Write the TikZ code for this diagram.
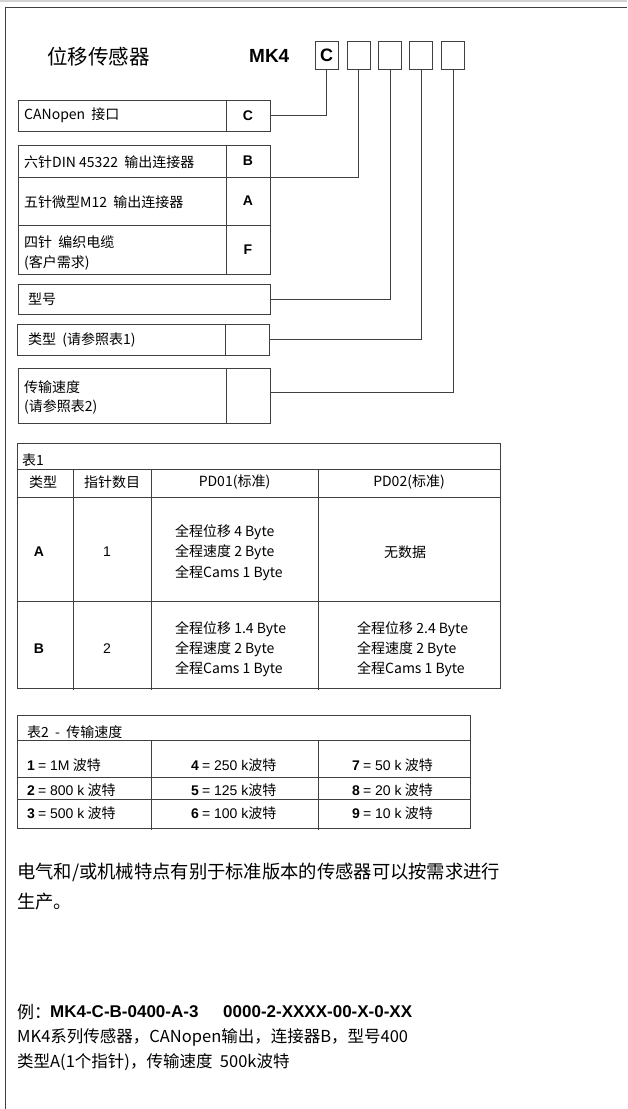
\documentclass[tikz,border=0pt]{standalone}
\usepackage{fontspec}
\setmainfont{Noto Sans CJK SC}
\newfontfamily\lib{Liberation Sans}
\begin{document}
\begin{tikzpicture}[x=1pt,y=-1pt,
  ln/.style={draw=black!75, line width=0.8pt},
  codebox/.style={ln, minimum width=23pt, minimum height=28pt, inner sep=0pt, font=\lib\bfseries\fontsize{18}{18}\selectfont},
  cell/.style={ln, inner sep=0pt, font=\lib\bfseries\fontsize{14}{14}\selectfont},
  lbl/.style={anchor=west, inner sep=0pt, font=\fontsize{14}{16}\selectfont},
  tb/.style={inner sep=0pt, font=\fontsize{14}{16}\selectfont},
  tbl/.style={inner sep=0pt, anchor=west, font=\fontsize{14}{16}\selectfont},
  bigtxt/.style={inner sep=0pt, anchor=west, font=\fontsize{18.3}{20}\selectfont},
  smtxt/.style={inner sep=0pt, anchor=west, font=\fontsize{16.5}{18}\selectfont}
]
\useasboundingbox (0,0) rectangle (627,1109);
% frame
\draw[gray!35, line width=1.5pt] (0,1) -- (627,1);
\draw[ln, line width=1pt] (5,1109) -- (5,7) -- (627,7);

% title
\node[inner sep=0pt, anchor=west, font=\fontsize{20.5}{22}\selectfont] (title) at (47,57) {位移传感器};
\node[inner sep=0pt, anchor=west, font=\lib\bfseries\fontsize{19}{20}\selectfont] (mk) at (249,56) {MK4};
\node[codebox] (k1) at (326.5,55) {C};
\node[codebox] (k2) at (358.5,55) {};
\node[codebox] (k3) at (390,55) {};
\node[codebox] (k4) at (421,55) {};
\node[codebox] (k5) at (453,55) {};

% CANopen row
\node[cell, minimum width=208pt, minimum height=31pt] (canL) at (122,115.5) {};
\node[cell, minimum width=44pt, minimum height=31pt] (canC) at (248,115.5) {C};
\node[lbl] (canT) at (24,115.5) {CANopen\ \ 接口};

% B A F rows
\node[cell, minimum width=208pt, minimum height=32pt] (bL) at (122,161) {};
\node[cell, minimum width=44pt, minimum height=32pt] (bC) at (248,161) {B};
\node[lbl] (bT) at (24,162) {六针DIN 45322\ \ 输出连接器};
\node[cell, minimum width=208pt, minimum height=48pt] (aL) at (122,201) {};
\node[cell, minimum width=44pt, minimum height=48pt] (aC) at (248,201) {A};
\node[lbl] (aT) at (24,202) {五针微型M12\ \ 输出连接器};
\node[cell, minimum width=208pt, minimum height=49pt] (fL) at (122,249.5) {};
\node[cell, minimum width=44pt, minimum height=49pt] (fC) at (248,249.5) {F};
\node[lbl] (fT1) at (24,242) {四针\ \ 编织电缆};
\node[lbl] (fT2) at (24,263) {(客户需求)};

% 型号
\node[cell, minimum width=252pt, minimum height=30pt] (xh) at (144,299) {};
\node[lbl] (xhT) at (28,299) {型号};

% 类型
\node[cell, minimum width=208pt, minimum height=31pt] (lxL) at (121,339.5) {};
\node[cell, minimum width=44pt, minimum height=31pt] (lxR) at (247,339.5) {};
\node[lbl] (lxT) at (28,340) {类型\ \ (请参照表1)};

% 传输速度
\node[cell, minimum width=208pt, minimum height=55pt] (sdL) at (122,395.5) {};
\node[cell, minimum width=44pt, minimum height=55pt] (sdR) at (248,395.5) {};
\node[lbl] (sdT1) at (24,387) {传输速度};
\node[lbl] (sdT2) at (24,407) {(请参照表2)};

% connectors
\coordinate (bj) at (270,177);
\coordinate (sj) at (270,392);
\draw[ln] (k1.south) |- (canC.east);
\draw[ln] (k2.south) |- (bj);
\draw[ln] (k3.south) |- (xh.east);
\draw[ln] (k4.south) |- (lxR.east);
\draw[ln] (k5.south) |- (sj);

% Table 1
\draw[ln] (17,443) rectangle (500,688);
\draw[ln] (17,469) -- (500,469);
\draw[ln] (17,497) -- (500,497);
\draw[ln] (17,601) -- (500,601);
\draw[ln] (73,469) -- (73,690);
\draw[ln] (151,469) -- (151,690);
\draw[ln] (318,469) -- (318,690);
\node[tbl] (t1) at (22,460) {表1};
\node[tb] (h1) at (43,482) {类型};
\node[tb] (h2) at (112,482) {指针数目};
\node[tb] (h3) at (234.5,482) {PD01(标准)};
\node[tb] (h4) at (409,482) {PD02(标准)};
\node[tb, font=\lib\bfseries\fontsize{14}{14}\selectfont] (ra) at (39,552) {A};
\node[tb, font=\lib\fontsize{14}{14}\selectfont] (ra1) at (107,552) {1};
\node[tbl] (ra2) at (175,532) {全程位移 4 Byte};
\node[tbl] (ra3) at (175,552) {全程速度 2 Byte};
\node[tbl] (ra4) at (175,573) {全程Cams 1 Byte};
\node[tb] (ra5) at (405,552) {无数据};
\node[tb, font=\lib\bfseries\fontsize{14}{14}\selectfont] (rb) at (39,649) {B};
\node[tb, font=\lib\fontsize{14}{14}\selectfont] (rb1) at (107,649) {2};
\node[tbl] (rb2) at (175,629) {全程位移 1.4 Byte};
\node[tbl] (rb3) at (175,649) {全程速度 2 Byte};
\node[tbl] (rb4) at (175,669) {全程Cams 1 Byte};
\node[tbl] (rb5) at (357,629) {全程位移 2.4 Byte};
\node[tbl] (rb6) at (357,649) {全程速度 2 Byte};
\node[tbl] (rb7) at (357,669) {全程Cams 1 Byte};

% Table 2
\draw[ln] (17,715) rectangle (470,828);
\draw[ln] (17,740) -- (470,740);
\draw[ln] (17,777) -- (470,777);
\draw[ln] (17,799) -- (470,799);
\draw[ln] (151,740) -- (151,830);
\draw[ln] (318,740) -- (318,830);
\node[tbl] (t2) at (27,732) {表2\ \ -\ \ 传输速度};
\node[tbl] (s1) at (27,765) {{\lib\bfseries 1} {\lib = 1M} 波特};
\node[tbl] (s2) at (27,790) {{\lib\bfseries 2} {\lib = 800 k} 波特};
\node[tbl] (s3) at (27,813) {{\lib\bfseries 3} {\lib = 500 k} 波特};
\node[tbl] (s4) at (191,765) {{\lib\bfseries 4} {\lib = 250 k}波特};
\node[tbl] (s5) at (191,790) {{\lib\bfseries 5} {\lib = 125 k}波特};
\node[tbl] (s6) at (191,813) {{\lib\bfseries 6} {\lib = 100 k}波特};
\node[tbl] (s7) at (352,765) {{\lib\bfseries 7} {\lib = 50 k} 波特};
\node[tbl] (s8) at (352,790) {{\lib\bfseries 8} {\lib = 20 k} 波特};
\node[tbl] (s9) at (352,813) {{\lib\bfseries 9} {\lib = 10 k} 波特};

% paragraph
\node[bigtxt] (p1) at (17,872) {电气和/或机械特点有别于标准版本的传感器可以按需求进行};
\node[bigtxt] (p2) at (17,902) {生产。};

% example
\node[smtxt, font=\fontsize{17}{18}\selectfont] (e0) at (17,1012) {例：};
\node[smtxt, font=\lib\bfseries\fontsize{17}{18}\selectfont] (e1) at (50,1012) {MK4-C-B-0400-A-3};
\node[smtxt, font=\lib\bfseries\fontsize{17}{18}\selectfont] (e2) at (223,1012) {0000-2-XXXX-00-X-0-XX};
\node[smtxt] (e3) at (17,1037) {MK4系列传感器，CANopen输出，连接器B，型号400};
\node[smtxt] (e4) at (17,1062) {类型A(1个指针)，传输速度\ \ 500k波特};
\end{tikzpicture}
\end{document}
